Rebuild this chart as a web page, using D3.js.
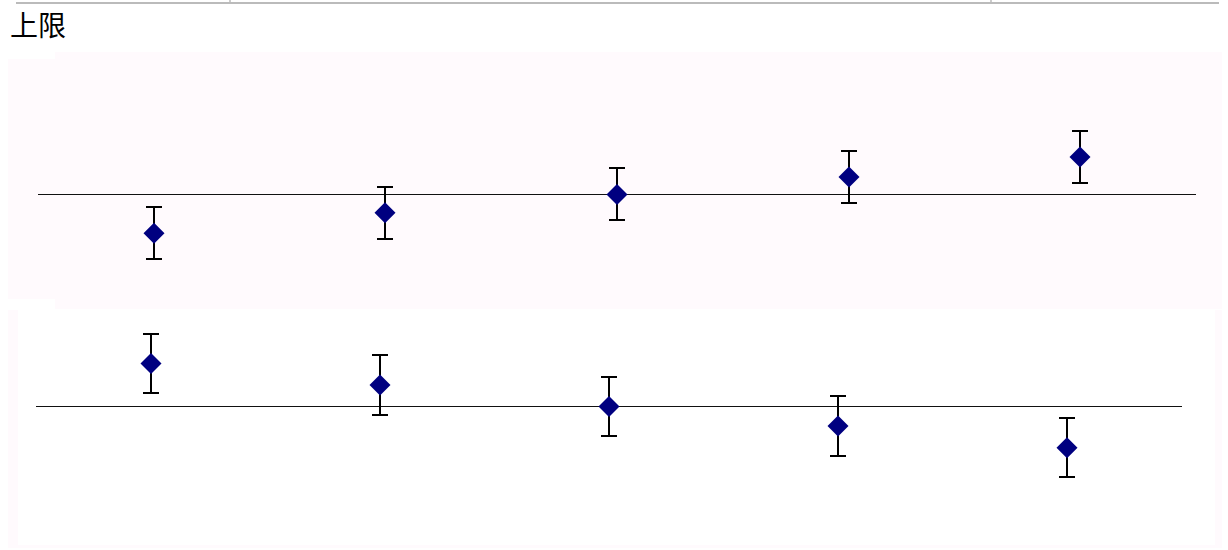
<!DOCTYPE html>
<html>
<head>
<meta charset="utf-8">
<script src="https://cdn.jsdelivr.net/npm/d3@7"></script>
<style>
  body { margin: 0; background: #fff; }
  svg { display: block; }
</style>
</head>
<body>
<div id="chart"></div>
<script>
// two small forest-style panels, shared title

var groups = ["1", "2", "3", "4", "5"];
var upperMeans = [-2.02, -0.96, 0, 0.91, 1.95];
var upperErr = [1.36, 1.36, 1.36, 1.36, 1.36];
var lowerMeans = [2.01, 1.0, 0, -0.91, -1.93];
var lowerErr = [1.38, 1.38, 1.38, 1.38, 1.38];
var title = "上限";

var width = 1228, height = 550;
var pink = "#fffafd";

var svg = d3.select("#chart").append("svg")
    .attr("width", width)
    .attr("height", height);

// thin grey rule at the top with two little ticks
svg.append("line")
    .attr("x1", 16).attr("x2", 1219)
    .attr("y1", 3).attr("y2", 3)
    .attr("stroke", "#bbb").attr("stroke-width", 2);
[230, 991].forEach(function(x) {
    svg.append("line")
        .attr("x1", x).attr("x2", x)
        .attr("y1", 0).attr("y2", 3)
        .attr("stroke", "#bbb").attr("stroke-width", 1.5);
});

svg.append("text")
    .attr("x", 10)
    .attr("y", 36)
    .attr("font-family", "'Noto Sans CJK SC', 'Noto Sans', sans-serif")
    .attr("font-size", 28)
    .attr("font-weight", 400)
    .attr("fill", "#000")
    .text(title);

// panel backgrounds
svg.append("rect").attr("x", 8).attr("y", 52).attr("width", 1214).attr("height", 257).attr("fill", pink);
svg.append("rect").attr("x", 8).attr("y", 50).attr("width", 47).attr("height", 9).attr("fill", "#fff");
svg.append("rect").attr("x", 8).attr("y", 299).attr("width", 47).attr("height", 11).attr("fill", "#fff");
svg.append("rect").attr("x", 8).attr("y", 310).attr("width", 1214).attr("height", 238).attr("fill", pink);
svg.append("rect").attr("x", 18).attr("y", 310).attr("width", 1197).attr("height", 235).attr("fill", "#fff");

function panel(means, errs, xRange, yDomain, yRange) {
    var x = d3.scaleBand().domain(groups).range(xRange);
    var y = d3.scaleLinear().domain(yDomain).range(yRange);
    var g = svg.append("g");
    var y0 = Math.round(y(0)) + 0.5;

    g.append("line")
        .attr("x1", xRange[0]).attr("x2", xRange[1])
        .attr("y1", y0).attr("y2", y0)
        .attr("stroke", "#111").attr("stroke-width", 1);

    var data = groups.map(function(k, i) {
        return {key: k, m: means[i], e: errs[i]};
    });
    var cx = function(d) { return Math.round(x(d.key) + x.bandwidth() / 2); };

    var pt = g.selectAll("g.pt").data(data).enter().append("g").attr("class", "pt");

    pt.append("line")
        .attr("x1", cx).attr("x2", cx)
        .attr("y1", function(d) { return y(d.m + d.e); })
        .attr("y2", function(d) { return y(d.m - d.e); })
        .attr("stroke", "#000").attr("stroke-width", 2);

    [1, -1].forEach(function(s) {
        pt.append("line")
            .attr("x1", function(d) { return cx(d) - 8; })
            .attr("x2", function(d) { return cx(d) + 8; })
            .attr("y1", function(d) { return Math.round(y(d.m + s * d.e)); })
            .attr("y2", function(d) { return Math.round(y(d.m + s * d.e)); })
            .attr("stroke", "#000").attr("stroke-width", 2);
    });

    pt.append("path")
        .attr("d", "M0,-10.5 L10.5,0 L0,10.5 L-10.5,0 Z")
        .attr("transform", function(d) { return "translate(" + cx(d) + "," + y(d.m) + ")"; })
        .attr("fill", "#000080");
}

panel(upperMeans, upperErr, [38, 1196], [-5.77, 7.43], [305, 52]);
panel(lowerMeans, lowerErr, [36, 1182], [-6.6, 4.5], [548, 310]);
</script>
</body>
</html>
